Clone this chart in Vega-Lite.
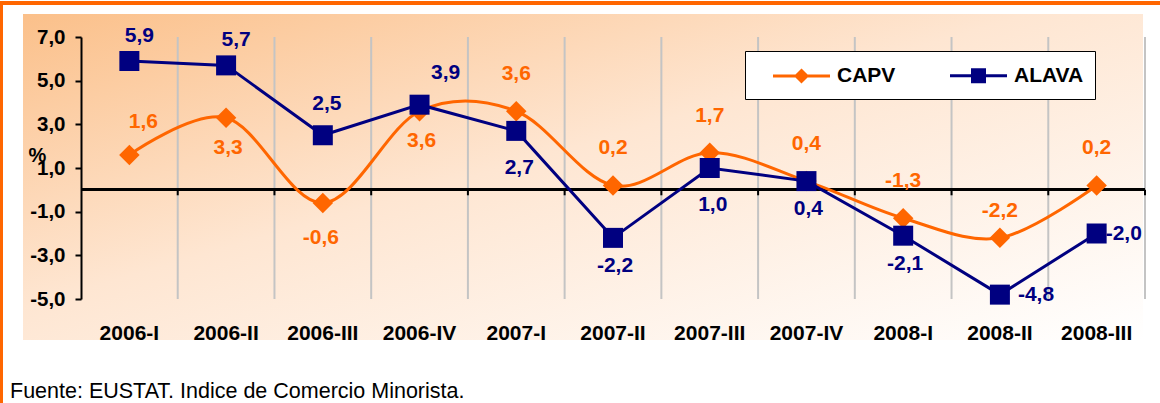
{
  "$schema": "https://vega.github.io/schema/vega-lite/v6.json",
  "width": 1120,
  "height": 326,
  "autosize": {"type": "none"},
  "padding": {"left": 23, "top": 14, "right": 17, "bottom": 63},
  "background": "#FFFFFF",
  "title": {
    "text": "Fuente: EUSTAT. Indice de Comercio Minorista.",
    "orient": "bottom",
    "anchor": "start",
    "frame": "group",
    "font": "Liberation Sans",
    "fontSize": 21.5,
    "fontWeight": "normal",
    "color": "#000000",
    "dx": -13,
    "offset": -7,
    "baseline": "alphabetic"
  },
  "data": {
    "values": [
      {"q": "2006-I", "s": "CAPV", "v": 1.6},
      {"q": "2006-II", "s": "CAPV", "v": 3.3},
      {"q": "2006-III", "s": "CAPV", "v": -0.6},
      {"q": "2006-IV", "s": "CAPV", "v": 3.6},
      {"q": "2007-I", "s": "CAPV", "v": 3.6},
      {"q": "2007-II", "s": "CAPV", "v": 0.2},
      {"q": "2007-III", "s": "CAPV", "v": 1.7},
      {"q": "2007-IV", "s": "CAPV", "v": 0.4},
      {"q": "2008-I", "s": "CAPV", "v": -1.3},
      {"q": "2008-II", "s": "CAPV", "v": -2.2},
      {"q": "2008-III", "s": "CAPV", "v": 0.2},
      {"q": "2006-I", "s": "ALAVA", "v": 5.9},
      {"q": "2006-II", "s": "ALAVA", "v": 5.7},
      {"q": "2006-III", "s": "ALAVA", "v": 2.5},
      {"q": "2006-IV", "s": "ALAVA", "v": 3.9},
      {"q": "2007-I", "s": "ALAVA", "v": 2.7},
      {"q": "2007-II", "s": "ALAVA", "v": -2.2},
      {"q": "2007-III", "s": "ALAVA", "v": 1.0},
      {"q": "2007-IV", "s": "ALAVA", "v": 0.4},
      {"q": "2008-I", "s": "ALAVA", "v": -2.1},
      {"q": "2008-II", "s": "ALAVA", "v": -4.8},
      {"q": "2008-III", "s": "ALAVA", "v": -2.0}
    ]
  },
  "layer": [
    {
      "transform": [{"filter": "datum.s === 'CAPV'"}],
      "mark": {"type": "rule", "color": "#C4C4C4", "strokeWidth": 2},
      "encoding": {
        "x": {
          "field": "q", "type": "ordinal", "sort": null, "bandPosition": 1,
          "scale": {"type": "band", "paddingInner": 0, "paddingOuter": 0, "range": [58, 1122]},
          "axis": {
            "title": null, "grid": false, "domain": false, "ticks": false, "offset": -41,
            "labelAngle": 0, "labelPadding": 23, "labelFont": "Liberation Sans",
            "labelFontSize": 21, "labelFontWeight": "bold", "labelColor": "#000000"
          }
        },
        "y": {
          "datum": 7, "type": "quantitative",
          "scale": {"domain": [-5, 7], "nice": false, "zero": false, "range": [285, 23]},
          "axis": {
            "values": [-5, -3, -1, 1, 3, 5, 7], "format": ".1f", "grid": false, "offset": -58,
            "domainColor": "#000000", "domainWidth": 2, "tickColor": "#000000",
            "tickWidth": 2, "tickSize": 6, "labelPadding": 10,
            "labelFont": "Liberation Sans", "labelFontSize": 20.5, "labelFontWeight": "bold",
            "labelColor": "#000000",
            "title": "%", "titleAngle": 0, "titleX": -44, "titleY": 141,
            "titleAlign": "center", "titleBaseline": "middle", "titleFont": "Liberation Sans",
            "titleFontSize": 20, "titleFontWeight": "bold", "titleColor": "#000000"
          }
        },
        "y2": {"datum": -5}
      }
    },
    {
      "mark": {"type": "rule", "color": "#FF6600", "strokeWidth": 4},
      "encoding": {
        "x": {"datum": "2006-I", "type": "ordinal", "bandPosition": -0.8374},
        "x2": {"datum": "2008-III", "bandPosition": 1.155},
        "y": {"datum": 8.557, "type": "quantitative"}
      }
    },
    {
      "mark": {"type": "rule", "color": "#FF6600", "strokeWidth": 2.5},
      "encoding": {
        "x": {"datum": "2006-I", "type": "ordinal", "bandPosition": -0.825},
        "y": {"datum": 8.5, "type": "quantitative"},
        "y2": {"datum": -9.8}
      }
    },
    {
      "mark": {"type": "rule", "color": "#000000", "strokeWidth": 2},
      "encoding": {
        "x": {"datum": "2006-I", "type": "ordinal", "bandPosition": 0},
        "x2": {"datum": "2008-III", "bandPosition": 1},
        "y": {"datum": 0, "type": "quantitative"}
      }
    },
    {
      "transform": [{"filter": "datum.s === 'CAPV'"}],
      "mark": {"type": "rule", "color": "#000000", "strokeWidth": 2},
      "encoding": {
        "x": {"field": "q", "type": "ordinal", "sort": null, "bandPosition": 1},
        "y": {"datum": 0, "type": "quantitative"},
        "y2": {"datum": -0.25}
      }
    },
    {
      "transform": [{"filter": "datum.s === 'CAPV'"}],
      "mark": {"type": "line", "color": "#FF6600", "strokeWidth": 3, "interpolate": "cardinal"},
      "encoding": {
        "x": {"field": "q", "type": "ordinal", "sort": null},
        "y": {"field": "v", "type": "quantitative"}
      }
    },
    {
      "transform": [{"filter": "datum.s === 'CAPV'"}],
      "mark": {"type": "point", "shape": "diamond", "filled": true, "color": "#FF6600", "opacity": 1, "size": 420},
      "encoding": {
        "x": {"field": "q", "type": "ordinal", "sort": null},
        "y": {"field": "v", "type": "quantitative"}
      }
    },
    {
      "transform": [{"filter": "datum.s === 'ALAVA'"}],
      "mark": {"type": "line", "color": "#000080", "strokeWidth": 3},
      "encoding": {
        "x": {"field": "q", "type": "ordinal", "sort": null},
        "y": {"field": "v", "type": "quantitative"}
      }
    },
    {
      "transform": [{"filter": "datum.s === 'ALAVA'"}],
      "mark": {"type": "point", "shape": "square", "filled": true, "color": "#000080", "opacity": 1, "size": 400},
      "encoding": {
        "x": {"field": "q", "type": "ordinal", "sort": null},
        "y": {"field": "v", "type": "quantitative"}
      }
    },
    {
      "mark": {"type": "point", "opacity": 0, "size": 576, "strokeWidth": 3},
      "encoding": {
        "x": {"field": "q", "type": "ordinal", "sort": null},
        "y": {"field": "v", "type": "quantitative"},
        "shape": {
          "field": "s", "type": "nominal",
          "scale": {
            "domain": ["CAPV", "ALAVA"],
            "range": [
              "M-2.375,0L2.375,0M0,-0.45L0.45,0L0,0.45L-0.45,0Z",
              "M-2.375,0L2.375,0M-0.5,-0.5L0.5,-0.5L0.5,0.5L-0.5,0.5Z"
            ]
          },
          "legend": {
            "title": null, "orient": "none", "legendX": 722, "legendY": 37,
            "direction": "horizontal", "fillColor": "#FFFFFF", "strokeColor": "#000000",
            "padding": 11, "symbolSize": 576, "symbolStrokeWidth": 3, "symbolOpacity": 1,
            "symbolOffset": 32, "labelOffset": 22, "columnPadding": 37,
            "labelFont": "Liberation Sans", "labelFontSize": 21, "labelFontWeight": "bold",
            "labelColor": "#000000"
          }
        },
        "fill": {
          "field": "s", "type": "nominal",
          "scale": {"domain": ["CAPV", "ALAVA"], "range": ["#FF6600", "#000080"]}
        },
        "stroke": {
          "field": "s", "type": "nominal",
          "scale": {"domain": ["CAPV", "ALAVA"], "range": ["#FF6600", "#000080"]}
        }
      }
    },
    {
      "transform": [{"filter": {"field": "s", "equal": "CAPV"}}, {"filter": {"field": "q", "oneOf": ["2007-I", "2007-II", "2007-III", "2007-IV", "2008-I", "2008-III"]}}],
      "mark": {"type": "text", "color": "#FF6600", "font": "Liberation Sans", "fontSize": 21, "fontWeight": "bold", "dy": -37, "baseline": "middle"},
      "encoding": {
        "x": {"field": "q", "type": "ordinal", "sort": null},
        "y": {"field": "v", "type": "quantitative"},
        "text": {"field": "v", "type": "quantitative", "format": ".1f"}
      }
    },
    {
      "transform": [{"filter": {"field": "s", "equal": "CAPV"}}, {"filter": {"field": "q", "oneOf": ["2006-I"]}}],
      "mark": {"type": "text", "color": "#FF6600", "font": "Liberation Sans", "fontSize": 21, "fontWeight": "bold", "dy": -33, "dx": 14, "baseline": "middle"},
      "encoding": {
        "x": {"field": "q", "type": "ordinal", "sort": null},
        "y": {"field": "v", "type": "quantitative"},
        "text": {"field": "v", "type": "quantitative", "format": ".1f"}
      }
    },
    {
      "transform": [{"filter": {"field": "s", "equal": "CAPV"}}, {"filter": {"field": "q", "oneOf": ["2008-II"]}}],
      "mark": {"type": "text", "color": "#FF6600", "font": "Liberation Sans", "fontSize": 21, "fontWeight": "bold", "dy": -27, "baseline": "middle"},
      "encoding": {
        "x": {"field": "q", "type": "ordinal", "sort": null},
        "y": {"field": "v", "type": "quantitative"},
        "text": {"field": "v", "type": "quantitative", "format": ".1f"}
      }
    },
    {
      "transform": [{"filter": {"field": "s", "equal": "CAPV"}}, {"filter": {"field": "q", "oneOf": ["2006-II", "2006-IV"]}}],
      "mark": {"type": "text", "color": "#FF6600", "font": "Liberation Sans", "fontSize": 21, "fontWeight": "bold", "dy": 30, "dx": 2, "baseline": "middle"},
      "encoding": {
        "x": {"field": "q", "type": "ordinal", "sort": null},
        "y": {"field": "v", "type": "quantitative"},
        "text": {"field": "v", "type": "quantitative", "format": ".1f"}
      }
    },
    {
      "transform": [{"filter": {"field": "s", "equal": "CAPV"}}, {"filter": {"field": "q", "oneOf": ["2006-III"]}}],
      "mark": {"type": "text", "color": "#FF6600", "font": "Liberation Sans", "fontSize": 21, "fontWeight": "bold", "dy": 35, "dx": -2, "baseline": "middle"},
      "encoding": {
        "x": {"field": "q", "type": "ordinal", "sort": null},
        "y": {"field": "v", "type": "quantitative"},
        "text": {"field": "v", "type": "quantitative", "format": ".1f"}
      }
    },
    {
      "transform": [{"filter": {"field": "s", "equal": "ALAVA"}}, {"filter": {"field": "q", "oneOf": ["2006-I", "2006-II"]}}],
      "mark": {"type": "text", "color": "#000080", "font": "Liberation Sans", "fontSize": 21, "fontWeight": "bold", "dy": -25, "dx": 10, "baseline": "middle"},
      "encoding": {
        "x": {"field": "q", "type": "ordinal", "sort": null},
        "y": {"field": "v", "type": "quantitative"},
        "text": {"field": "v", "type": "quantitative", "format": ".1f"}
      }
    },
    {
      "transform": [{"filter": {"field": "s", "equal": "ALAVA"}}, {"filter": {"field": "q", "oneOf": ["2006-III"]}}],
      "mark": {"type": "text", "color": "#000080", "font": "Liberation Sans", "fontSize": 21, "fontWeight": "bold", "dy": -31, "dx": 4, "baseline": "middle"},
      "encoding": {
        "x": {"field": "q", "type": "ordinal", "sort": null},
        "y": {"field": "v", "type": "quantitative"},
        "text": {"field": "v", "type": "quantitative", "format": ".1f"}
      }
    },
    {
      "transform": [{"filter": {"field": "s", "equal": "ALAVA"}}, {"filter": {"field": "q", "oneOf": ["2006-IV"]}}],
      "mark": {"type": "text", "color": "#000080", "font": "Liberation Sans", "fontSize": 21, "fontWeight": "bold", "dy": -32, "dx": 26, "baseline": "middle"},
      "encoding": {
        "x": {"field": "q", "type": "ordinal", "sort": null},
        "y": {"field": "v", "type": "quantitative"},
        "text": {"field": "v", "type": "quantitative", "format": ".1f"}
      }
    },
    {
      "transform": [{"filter": {"field": "s", "equal": "ALAVA"}}, {"filter": {"field": "q", "oneOf": ["2007-I", "2007-III"]}}],
      "mark": {"type": "text", "color": "#000080", "font": "Liberation Sans", "fontSize": 21, "fontWeight": "bold", "dy": 37, "dx": 3, "baseline": "middle"},
      "encoding": {
        "x": {"field": "q", "type": "ordinal", "sort": null},
        "y": {"field": "v", "type": "quantitative"},
        "text": {"field": "v", "type": "quantitative", "format": ".1f"}
      }
    },
    {
      "transform": [{"filter": {"field": "s", "equal": "ALAVA"}}, {"filter": {"field": "q", "oneOf": ["2007-II", "2007-IV", "2008-I"]}}],
      "mark": {"type": "text", "color": "#000080", "font": "Liberation Sans", "fontSize": 21, "fontWeight": "bold", "dy": 28, "dx": 2, "baseline": "middle"},
      "encoding": {
        "x": {"field": "q", "type": "ordinal", "sort": null},
        "y": {"field": "v", "type": "quantitative"},
        "text": {"field": "v", "type": "quantitative", "format": ".1f"}
      }
    },
    {
      "transform": [{"filter": {"field": "s", "equal": "ALAVA"}}, {"filter": {"field": "q", "oneOf": ["2008-II"]}}],
      "mark": {"type": "text", "color": "#000080", "font": "Liberation Sans", "fontSize": 21, "fontWeight": "bold", "dx": 18, "align": "left", "baseline": "middle"},
      "encoding": {
        "x": {"field": "q", "type": "ordinal", "sort": null},
        "y": {"field": "v", "type": "quantitative"},
        "text": {"field": "v", "type": "quantitative", "format": ".1f"}
      }
    },
    {
      "transform": [{"filter": {"field": "s", "equal": "ALAVA"}}, {"filter": {"field": "q", "oneOf": ["2008-III"]}}],
      "mark": {"type": "text", "color": "#000080", "font": "Liberation Sans", "fontSize": 21, "fontWeight": "bold", "dx": 9, "align": "left", "baseline": "middle"},
      "encoding": {
        "x": {"field": "q", "type": "ordinal", "sort": null},
        "y": {"field": "v", "type": "quantitative"},
        "text": {"field": "v", "type": "quantitative", "format": ".1f"}
      }
    }
  ],
  "config": {
    "font": "Liberation Sans",
    "locale": {
      "number": {"decimal": ",", "thousands": ".", "grouping": [3], "currency": ["", " €"], "minus": "-"}
    },
    "view": {
      "stroke": null,
      "fill": {
        "gradient": "linear", "x1": 0, "y1": 0, "x2": 1, "y2": 1,
        "stops": [
          {"offset": 0, "color": "#FBC08A"},
          {"offset": 0.45, "color": "#FEE6D2"},
          {"offset": 1, "color": "#FFFFFF"}
        ]
      }
    }
  }
}
